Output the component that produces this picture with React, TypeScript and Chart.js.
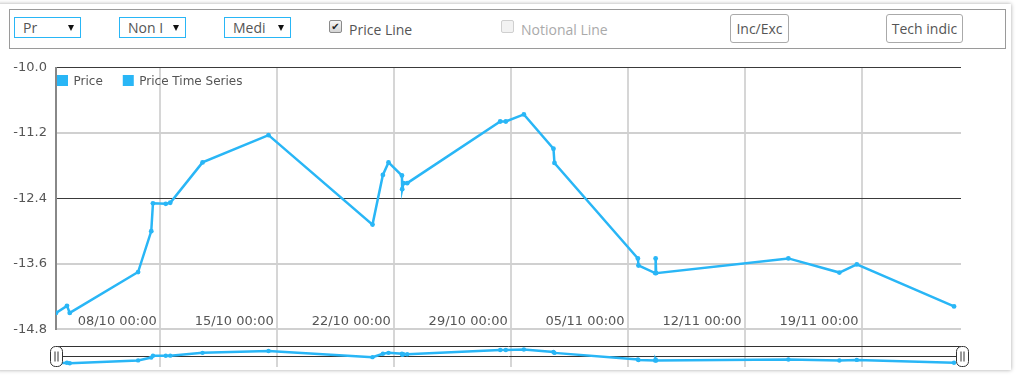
import React, { useEffect, useRef } from "react";
import { Chart, registerables } from "chart.js";

Chart.register(...registerables);

// ---------- data ----------
const times = [
  "2023-10-01T18:15", "2023-10-02T10:00", "2023-10-02T14:00", "2023-10-06T16:10",
  "2023-10-07T11:05", "2023-10-07T13:30", "2023-10-08T07:55", "2023-10-08T14:20",
  "2023-10-10T12:45", "2023-10-14T11:30", "2023-10-20T16:50", "2023-10-21T07:45",
  "2023-10-21T15:50", "2023-10-22T11:05", "2023-10-22T11:30", "2023-10-22T13:20",
  "2023-10-22T18:40", "2023-10-28T08:15", "2023-10-28T16:20", "2023-10-29T18:15",
  "2023-10-31T12:45", "2023-10-31T14:10", "2023-11-05T14:00", "2023-11-05T14:50",
  "2023-11-06T14:45", "2023-11-06T15:30", "2023-11-06T16:15", "2023-11-14T14:10",
  "2023-11-17T15:25", "2023-11-18T16:25", "2023-11-24T12:05",
];
const prices = [
  -14.5, -14.37, -14.5, -13.75,
  -13.0, -12.49, -12.5, -12.48,
  -11.74, -11.24, -12.88, -11.97,
  -11.74, -11.98, -12.23, -12.12,
  -12.12, -10.99, -10.99, -10.86,
  -11.49, -11.75, -13.5, -13.63,
  -13.77, -13.5, -13.77, -13.5,
  -13.76, -13.61, -14.38,
];
const xTickDates = [
  "2023-10-08T00:00", "2023-10-15T00:00", "2023-10-22T00:00", "2023-10-29T00:00",
  "2023-11-05T00:00", "2023-11-12T00:00", "2023-11-19T00:00",
];
const xTickLabels = [
  "08/10 00:00", "15/10 00:00", "22/10 00:00", "29/10 00:00",
  "05/11 00:00", "12/11 00:00", "19/11 00:00",
];
const yTicks = [-14.8, -13.6, -12.4, -11.2, -10.0];
const darkYLines = [-12.4, -10.0];
const seriesNames = ["Price", "Price Time Series"];
const xRange = ["2023-10-01T18:15", "2023-11-24T22:05"];
const yRange = [-14.8, -10.0];
const navRange = [-15.43, -5.45];

const toMs = (s: string) => Date.parse(s + ":00Z");

const BLUE = "#29b6f6";

const overlayPlugin = {
  id: "overlay",
  beforeDatasetsDraw(chart: any) {
    const { ctx, chartArea } = chart;
    const y2 = chart.scales.y2;
    const top = Math.floor(y2.bottom - 20) + 0.5;
    const mid = Math.floor(y2.bottom - 10.7) + 0.5;
    ctx.save();
    ctx.strokeStyle = "#333";
    ctx.lineWidth = 1;
    ctx.beginPath();
    ctx.moveTo(chartArea.left, top);
    ctx.lineTo(chartArea.right, top);
    ctx.moveTo(chartArea.left, mid);
    ctx.lineTo(chartArea.right, mid);
    ctx.stroke();
    ctx.restore();
  },
  afterDatasetsDraw(chart: any) {
    const { ctx, chartArea } = chart;
    const xs = chart.scales.x;
    const ys = chart.scales.y;
    const y2 = chart.scales.y2;
    ctx.save();
    // x tick labels inside the plot
    ctx.font = '13px "DejaVu Sans"';
    ctx.fillStyle = "#555";
    ctx.textAlign = "right";
    ctx.textBaseline = "alphabetic";
    xTickDates.forEach((d, i) => {
      const px = xs.getPixelForValue(toMs(d));
      ctx.fillText(xTickLabels[i], px - 3.5, ys.bottom - 4.5);
    });
    // legend
    ctx.font = '12px "DejaVu Sans"';
    let lx = chartArea.left + 1;
    const boxTop = chartArea.top + 7.5;
    ctx.textAlign = "left";
    ctx.textBaseline = "middle";
    seriesNames.forEach((name) => {
      ctx.fillStyle = BLUE;
      ctx.fillRect(lx, boxTop, 11, 11);
      ctx.fillStyle = "#555";
      ctx.fillText(name, lx + 16.5, boxTop + 6.5);
      lx += 16.5 + ctx.measureText(name).width + 20;
    });
    // navigator handles
    const hTop = Math.floor(y2.bottom - 20) + 0.5;
    const hBot = Math.floor(y2.bottom) + 0.5;
    [chartArea.left, chartArea.right + 1].forEach((cx: number) => {
      const w = 12;
      const x0 = Math.round(cx - w / 2) + 0.5;
      ctx.beginPath();
      if (ctx.roundRect) ctx.roundRect(x0, hTop, w, hBot - hTop, 5);
      else ctx.rect(x0, hTop, w, hBot - hTop);
      ctx.fillStyle = "#fff";
      ctx.fill();
      ctx.strokeStyle = "#333";
      ctx.lineWidth = 1;
      ctx.stroke();
      ctx.beginPath();
      ctx.moveTo(x0 + w / 2 - 1.5, hTop + 5);
      ctx.lineTo(x0 + w / 2 - 1.5, hBot - 5);
      ctx.moveTo(x0 + w / 2 + 1.5, hTop + 5);
      ctx.lineTo(x0 + w / 2 + 1.5, hBot - 5);
      ctx.stroke();
    });
    ctx.restore();
  },
};

const abs = (left: number, top: number, extra: any = {}) => ({
  position: "absolute" as const,
  left,
  top,
  boxSizing: "border-box" as const,
  ...extra,
});

function Select({ left, text }: { left: number; text: string }) {
  return (
    <>
      <div
        style={abs(left, 17, {
          width: 67,
          height: 21,
          border: "1px solid #29b6f6",
          fontSize: 14,
          lineHeight: "19px",
          color: "#555",
          paddingLeft: 8,
          whiteSpace: "nowrap",
        })}
      >
        {text}
      </div>
      <div
        style={abs(left + 54, 25, {
          width: 0,
          height: 0,
          borderLeft: "3px solid transparent",
          borderRight: "3px solid transparent",
          borderTop: "6px solid #111",
        })}
      />
    </>
  );
}

const zeroPad = (s: any) => {
  s.paddingTop = 0;
  s.paddingBottom = 0;
  s.paddingLeft = 0;
  s.paddingRight = 0;
};

export default function App() {
  const canvasRef = useRef<HTMLCanvasElement>(null);

  useEffect(() => {
    const canvas = canvasRef.current;
    if (!canvas) return;
    const pts = times.map((t, i) => ({ x: toMs(t), y: prices[i] }));
    const xTickValues = xTickDates.map(toMs);
    const isDark = (c: any) => c.tick && darkYLines.some((d) => Math.abs(d - c.tick.value) < 1e-6);
    const chart = new Chart(canvas, {
      type: "line",
      data: {
        datasets: [
          {
            label: seriesNames[0],
            data: pts,
            yAxisID: "y2",
            borderColor: BLUE,
            backgroundColor: BLUE,
            borderWidth: 2.5,
            pointRadius: 2.2,
            pointBorderWidth: 0,
            pointBackgroundColor: BLUE,
            tension: 0,
          },
          {
            label: seriesNames[1],
            data: pts,
            yAxisID: "y",
            borderColor: BLUE,
            backgroundColor: BLUE,
            borderWidth: 2.5,
            pointRadius: 2.4,
            pointBorderWidth: 0,
            pointBackgroundColor: BLUE,
            tension: 0,
          },
        ],
      },
      options: {
        animation: false,
        responsive: false,
        devicePixelRatio: 1,
        layout: { padding: { left: 0, right: 56, top: 12.5, bottom: 8.3 } },
        plugins: { legend: { display: false }, tooltip: { enabled: false } },
        events: [],
        scales: {
          x: {
            type: "linear",
            min: toMs(xRange[0]),
            max: toMs(xRange[1]),
            afterBuildTicks: (s: any) => {
              s.ticks = xTickValues.map((v) => ({ value: v }));
            },
            afterFit: (s: any) => {
              s.height = 0;
              zeroPad(s);
            },
            ticks: { display: false },
            grid: { color: "#d6d6d6", lineWidth: 2, drawTicks: false },
            border: { display: false },
          },
          y2: {
            type: "linear",
            position: "left",
            stack: "v",
            stackWeight: 1,
            min: navRange[0],
            max: navRange[1],
            afterFit: (s: any) => {
              s.width = 56;
              zeroPad(s);
            },
            ticks: { display: false },
            grid: { display: false },
            border: { display: false },
          },
          y: {
            type: "linear",
            position: "left",
            stack: "v",
            stackWeight: 7,
            min: yRange[0],
            max: yRange[1],
            afterBuildTicks: (s: any) => {
              s.ticks = yTicks.map((v) => ({ value: v }));
            },
            afterFit: (s: any) => {
              s.width = 56;
              zeroPad(s);
            },
            ticks: {
              padding: 9,
              color: "#555",
              font: { family: '"DejaVu Sans"', size: 13 },
              callback: (v: any) => Number(v).toFixed(1),
            },
            grid: {
              drawTicks: false,
              color: (c: any) => (isDark(c) ? "#3a3a3a" : "#d0d0d0"),
              lineWidth: (c: any) => (isDark(c) ? 1 : 2),
            },
            border: { color: "#888", width: 2 },
          },
        },
      } as any,
      plugins: [overlayPlugin],
    });
    return () => chart.destroy();
  }, []);

  return (
    <div
      style={{
        position: "absolute",
        left: 0,
        top: 0,
        width: 1017,
        height: 377,
        overflow: "hidden",
        background: "#fff",
        fontFamily: '"Open Sans", sans-serif',
      }}
    >
      <div
        style={abs(-3, 4, {
          width: 1014,
          height: 366,
          background: "#fff",
          boxShadow: "0 0 4px rgba(0,0,0,0.35)",
        })}
      />
      <div style={abs(9, 9, { width: 997, height: 40, border: "1px solid #9a9a9a" })} />
      <Select left={14} text="Pr" />
      <Select left={119} text="Non I" />
      <Select left={224} text="Medi" />
      <div
        style={abs(329, 20, {
          width: 13,
          height: 13,
          border: "1px solid #8a8a8a",
          borderRadius: 2,
          background: "linear-gradient(#f6f6f6, #d4d4d4)",
          fontSize: 10,
          lineHeight: "11px",
          textAlign: "center",
          color: "#222",
          fontFamily: '"DejaVu Sans"',
        })}
      >
        ✔
      </div>
      <div style={abs(349, 20, { fontSize: 14, lineHeight: "19px", color: "#555", whiteSpace: "nowrap" })}>
        Price Line
      </div>
      <div
        style={abs(501, 20, {
          width: 13,
          height: 13,
          border: "1px solid #cfcfcf",
          borderRadius: 2,
          background: "#f2f2f2",
        })}
      />
      <div style={abs(521, 20, { fontSize: 14, lineHeight: "19px", color: "#aaa", whiteSpace: "nowrap" })}>
        Notional Line
      </div>
      <div
        style={abs(730, 14, {
          width: 59,
          height: 29,
          border: "1px solid #aaa",
          borderRadius: 3,
          fontSize: 14,
          lineHeight: "27px",
          color: "#555",
          textAlign: "center",
          whiteSpace: "nowrap",
        })}
      >
        Inc/Exc
      </div>
      <div
        style={abs(886, 14, {
          width: 77,
          height: 29,
          border: "1px solid #aaa",
          borderRadius: 3,
          fontSize: 14,
          lineHeight: "27px",
          color: "#555",
          textAlign: "center",
          whiteSpace: "nowrap",
        })}
      >
        Tech indic
      </div>
      <canvas
        ref={canvasRef}
        width={1017}
        height={320}
        style={{ position: "absolute", left: 0, top: 55, width: 1017, height: 320 }}
      />
    </div>
  );
}
